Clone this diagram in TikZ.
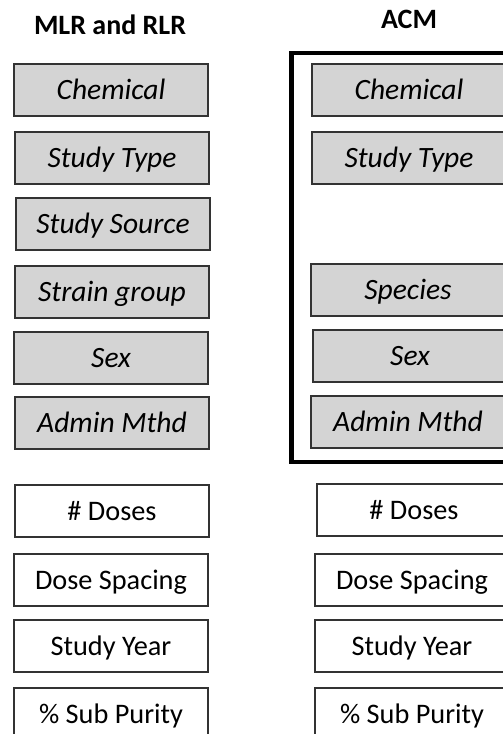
\documentclass[tikz,border=0pt]{standalone}
\usepackage{fontspec}
\setmainfont{Carlito}
\begin{document}
\begin{tikzpicture}[x=1pt,y=-1pt,
  box/.style={draw=black!80, line width=1.4pt, minimum width=194pt, minimum height=52pt,
    inner sep=0pt, text height=18pt, text depth=0pt, font=\fontsize{28.3}{30}\selectfont},
  graybox/.style={box, fill=black!17, font=\fontsize{29.5}{32}\selectfont\itshape, text height=19pt},
  whitebox/.style={box, fill=white},
  title/.style={font=\fontsize{28}{30}\selectfont\bfseries, inner sep=0pt, text height=18pt, text depth=0pt}]
\useasboundingbox (0,0) rectangle (503,734);
% titles
\node[title] (t1) at (110,25) {MLR and RLR};
\node[title] (t2) at (409,19) {ACM};
% frame
\draw[line width=4.5pt] (291.5,53) rectangle (515,462);
% left column
\node[graybox] (l1) at (111,90) {Chemical};
\node[graybox] (l2) at (112,158) {Study Type};
\node[graybox] (l3) at (113,224) {Study Source};
\node[graybox] (l4) at (112,292) {Strain group};
\node[graybox] (l5) at (111,358) {Sex};
\node[graybox] (l6) at (112,423) {Admin Mthd};
\node[whitebox] (l7) at (112,511) {\# Doses};
\node[whitebox] (l8) at (111,580) {Dose Spacing};
\node[whitebox] (l9) at (111,646) {Study Year};
\node[whitebox] (l10) at (111,714) {\% Sub Purity};
% right column
\node[graybox] (r1) at (409,90) {Chemical};
\node[graybox] (r2) at (409,158) {Study Type};
\node[graybox] (r3) at (408,290) {Species};
\node[graybox] (r4) at (410,356) {Sex};
\node[graybox] (r5) at (408,422) {Admin Mthd};
\node[whitebox] (r6) at (414,510) {\# Doses};
\node[whitebox] (r7) at (412,580) {Dose Spacing};
\node[whitebox] (r8) at (412,646) {Study Year};
\node[whitebox] (r9) at (412,714) {\% Sub Purity};
\end{tikzpicture}
\end{document}
